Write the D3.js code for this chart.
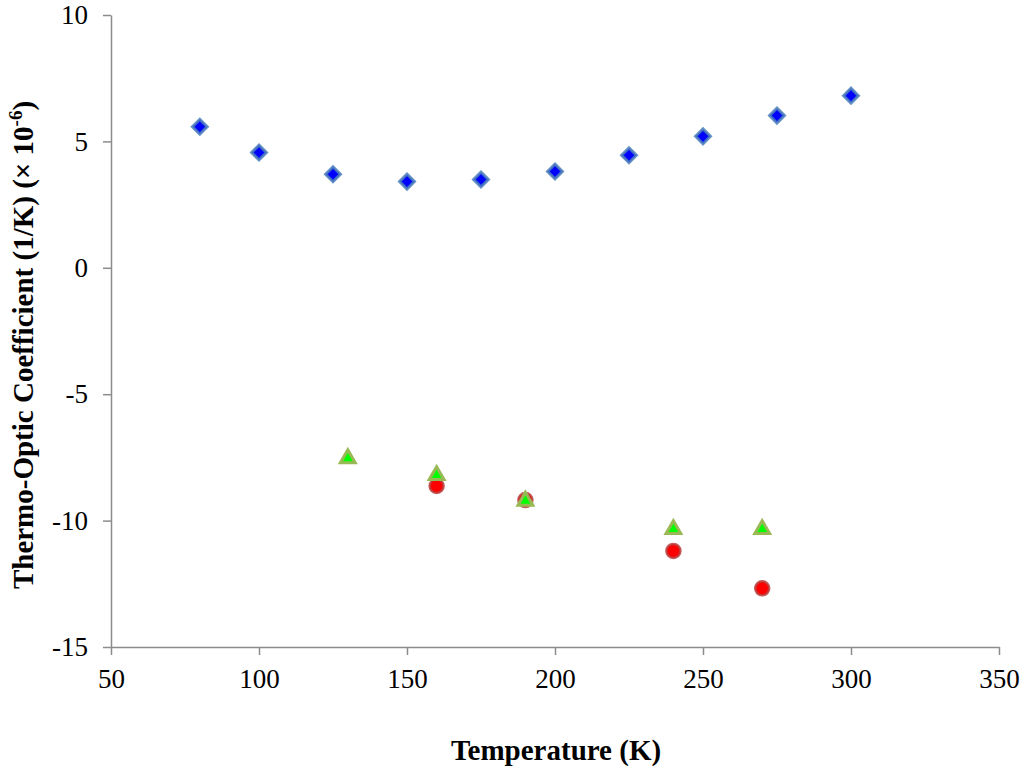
<!DOCTYPE html>
<html>
<head>
<meta charset="utf-8">
<script src="https://cdn.jsdelivr.net/npm/d3@7"></script>
<style>
  body { margin: 0; background: #fff; }
  text { font-family: "Liberation Serif", "Times New Roman", serif; }
</style>
</head>
<body>
<div id="chart"></div>
<script>
// data
const tempDiamond = [80, 100, 125, 150, 175, 200, 225, 250, 275, 300];
const valDiamond = [5.58, 4.56, 3.70, 3.41, 3.49, 3.81, 4.45, 5.20, 6.02, 6.81];

const tempCircle = [160, 190, 240, 270];
const valCircle = [-8.63, -9.19, -11.2, -12.68];

const tempTriangle = [130, 160, 190, 240, 270];
const valTriangle = [-7.54, -8.21, -9.22, -10.34, -10.34];

const xTicks = [50, 100, 150, 200, 250, 300, 350];
const yTicks = [-15, -10, -5, 0, 5, 10];

let dimensions = {
  width: 1024,
  height: 775,
  margin: { top: 15, right: 25, bottom: 128, left: 111 },
};
dimensions.boundedWidth =
  dimensions.width - dimensions.margin.left - dimensions.margin.right;
dimensions.boundedHeight =
  dimensions.height - dimensions.margin.top - dimensions.margin.bottom;

const wrapper = d3
  .select("#chart")
  .append("svg")
  .attr("width", dimensions.width)
  .attr("height", dimensions.height);

const bounds = wrapper
  .append("g")
  .attr("transform", `translate(${dimensions.margin.left}, ${dimensions.margin.top})`);

// scales
const xScale = d3.scaleLinear().domain([50, 350]).range([0, 888]);
const yScale = d3.scaleLinear().domain([-15, 10]).range([632, 0]);

// axes
const axisColor = "#8c8c8c";

const xAxis = bounds
  .append("g")
  .attr("transform", `translate(0, ${yScale(-15)})`)
  .call(
    d3.axisBottom(xScale).tickValues(xTicks).tickFormat((d) => String(d))
      .tickSize(8).tickSizeOuter(0).tickPadding(14)
  );

const yAxis = bounds
  .append("g")
  .call(
    d3.axisLeft(yScale).tickValues(yTicks).tickFormat((d) => String(d))
      .tickSize(8).tickSizeOuter(0).tickPadding(15)
  );

[xAxis, yAxis].forEach((a) => {
  a.select(".domain").attr("stroke", axisColor).attr("stroke-width", 1.5);
  a.selectAll(".tick line").attr("stroke", axisColor).attr("stroke-width", 1.5);
  a.selectAll(".tick text")
    .attr("fill", "#000")
    .style("font-size", "27px")
    .style("font-family", "'Liberation Serif', serif");
});

// axis titles
wrapper
  .append("text")
  .attr("x", 556)
  .attr("y", 760)
  .attr("text-anchor", "middle")
  .style("font-size", "29px")
  .style("font-weight", "bold")
  .text("Temperature (K)");

const yTitle = wrapper
  .append("text")
  .attr("transform", "translate(33, 345) rotate(-90)")
  .attr("text-anchor", "middle")
  .style("font-size", "29px")
  .style("font-weight", "bold");
yTitle.append("tspan").text("Thermo-Optic Coefficient (1/K) (× 10");
yTitle.append("tspan").attr("dy", -11).style("font-size", "19px").text("-6");
yTitle.append("tspan").attr("dy", 11).text(")");

// data marks
const diamonds = d3.range(tempDiamond.length);
bounds
  .append("g")
  .selectAll("path")
  .data(diamonds)
  .join("path")
  .attr("d", d3.symbol(d3.symbolSquare, 110)())
  .attr("transform", (i) => `translate(${xScale(tempDiamond[i])}, ${yScale(valDiamond[i])}) rotate(45)`)
  .attr("fill", "#0000ff")
  .attr("stroke", "#4a7ebb")
  .attr("stroke-opacity", 0.85)
  .attr("stroke-width", 3);

bounds
  .append("g")
  .selectAll("circle")
  .data(d3.range(tempCircle.length))
  .join("circle")
  .attr("cx", (i) => xScale(tempCircle[i]))
  .attr("cy", (i) => yScale(valCircle[i]))
  .attr("r", 7)
  .attr("fill", "#ff0000")
  .attr("stroke", "#b8403d")
  .attr("stroke-opacity", 0.85)
  .attr("stroke-width", 2.5);

bounds
  .append("g")
  .selectAll("path")
  .data(d3.range(tempTriangle.length))
  .join("path")
  .attr("d", d3.symbol(d3.symbolTriangle, 95)())
  .attr("transform", (i) => `translate(${xScale(tempTriangle[i])}, ${yScale(valTriangle[i])})`)
  .attr("fill", "#00ff00")
  .attr("stroke", "#98b954")
  .attr("stroke-width", 3)
  .attr("stroke-linejoin", "miter");
</script>
</body>
</html>
